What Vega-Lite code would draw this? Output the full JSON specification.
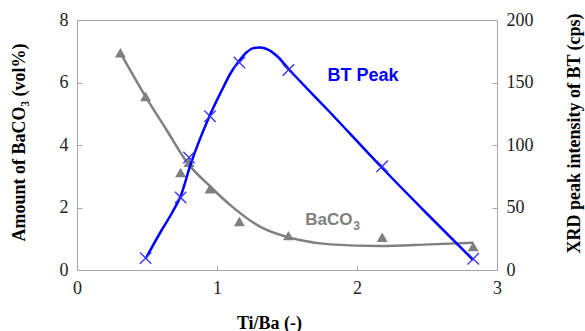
{
  "$schema": "https://vega.github.io/schema/vega-lite/v6.json",
  "width": 420,
  "height": 250,
  "autosize": {"type": "none"},
  "padding": {"left": 77, "top": 20, "right": 88, "bottom": 61},
  "background": "white",
  "config": {
    "view": {"stroke": "#a6a6a6", "strokeWidth": 1},
    "axis": {
      "grid": false,
      "domainColor": "#a6a6a6",
      "tickColor": "#a6a6a6",
      "tickSize": -5,
      "labelFont": "Liberation Serif",
      "labelFontSize": 18,
      "labelColor": "#222222",
      "labelPadding": 14,
      "titleFont": "Liberation Serif",
      "titleFontSize": 18,
      "titleFontWeight": "bold",
      "titleColor": "#000000",
      "labelFlush": false
    }
  },
  "datasets": {
    "baco3_pts": [
      {"ti_ba": 0.31, "vol": 6.95},
      {"ti_ba": 0.49, "vol": 5.55},
      {"ti_ba": 0.74, "vol": 3.12},
      {"ti_ba": 0.8, "vol": 3.45},
      {"ti_ba": 0.95, "vol": 2.6},
      {"ti_ba": 1.16, "vol": 1.55},
      {"ti_ba": 1.51, "vol": 1.1},
      {"ti_ba": 2.18, "vol": 1.05},
      {"ti_ba": 2.83, "vol": 0.75}
    ],
    "baco3_curve": [
      {"ti_ba": 0.31, "vol": 6.95},
      {"ti_ba": 0.49, "vol": 5.55},
      {"ti_ba": 0.64, "vol": 4.48},
      {"ti_ba": 0.79, "vol": 3.42},
      {"ti_ba": 0.95, "vol": 2.68},
      {"ti_ba": 1.11, "vol": 2.02},
      {"ti_ba": 1.31, "vol": 1.38},
      {"ti_ba": 1.5, "vol": 1.06},
      {"ti_ba": 1.59, "vol": 0.96},
      {"ti_ba": 1.81, "vol": 0.82},
      {"ti_ba": 2.16, "vol": 0.77},
      {"ti_ba": 2.52, "vol": 0.82},
      {"ti_ba": 2.83, "vol": 0.87}
    ],
    "bt_pts": [
      {"ti_ba": 0.49, "cps": 9.5},
      {"ti_ba": 0.74, "cps": 58},
      {"ti_ba": 0.8, "cps": 90},
      {"ti_ba": 0.95, "cps": 123},
      {"ti_ba": 1.16, "cps": 166},
      {"ti_ba": 1.51, "cps": 160},
      {"ti_ba": 2.18, "cps": 83},
      {"ti_ba": 2.83, "cps": 9}
    ],
    "bt_curve": [
      {"ti_ba": 0.49, "cps": 9},
      {"ti_ba": 0.6, "cps": 31},
      {"ti_ba": 0.68, "cps": 46},
      {"ti_ba": 0.74, "cps": 59},
      {"ti_ba": 0.81, "cps": 84},
      {"ti_ba": 0.95, "cps": 124},
      {"ti_ba": 1.04, "cps": 145},
      {"ti_ba": 1.1, "cps": 158},
      {"ti_ba": 1.15, "cps": 166},
      {"ti_ba": 1.21, "cps": 174},
      {"ti_ba": 1.26, "cps": 177.5},
      {"ti_ba": 1.3, "cps": 178},
      {"ti_ba": 1.35, "cps": 177},
      {"ti_ba": 1.43, "cps": 171},
      {"ti_ba": 1.51, "cps": 161},
      {"ti_ba": 1.8, "cps": 127},
      {"ti_ba": 2.16, "cps": 84},
      {"ti_ba": 2.5, "cps": 45},
      {"ti_ba": 2.83, "cps": 8}
    ]
  },
  "encoding": {
    "x": {
      "field": "ti_ba",
      "type": "quantitative",
      "scale": {"domain": [0, 3], "nice": false, "zero": false},
      "axis": {
        "values": [0, 1, 2, 3],
        "title": "Ti/Ba (-)",
        "titleX": 192,
        "titleY": 53,
        "titleBaseline": "middle",
        "titleAlign": "center"
      }
    }
  },
  "layer": [
    {
      "encoding": {
        "y": {
          "field": "vol",
          "type": "quantitative",
          "scale": {"domain": [0, 8], "nice": false},
          "axis": {
            "orient": "left",
            "values": [0, 2, 4, 6, 8],
            "title": "Amount of BaCO₃ (vol%)",
            "titleX": -58,
            "titleY": 122,
            "titleAngle": -90,
            "titleAlign": "center",
            "titleBaseline": "middle"
          }
        }
      },
      "layer": [
        {
          "data": {"name": "baco3_curve"},
          "mark": {"type": "line", "interpolate": "monotone", "color": "#808080", "strokeWidth": 2.5}
        },
        {
          "data": {"name": "baco3_pts"},
          "mark": {"type": "point", "shape": "triangle-up", "filled": true, "color": "#808080", "size": 120, "opacity": 1}
        },
        {
          "data": {"values": [{"ti_ba": 1.63, "vol": 1.6, "label": "BaCO", "sub": "3"}]},
          "layer": [
            {
              "mark": {"type": "text", "align": "left", "baseline": "middle", "font": "Liberation Sans", "fontSize": 17, "fontWeight": "bold", "color": "#808080"},
              "encoding": {"text": {"field": "label"}}
            },
            {
              "mark": {"type": "text", "align": "left", "baseline": "middle", "font": "Liberation Sans", "fontSize": 12, "fontWeight": "bold", "color": "#808080", "dx": 48, "dy": 6},
              "encoding": {"text": {"field": "sub"}}
            }
          ]
        }
      ]
    },
    {
      "encoding": {
        "y": {
          "field": "cps",
          "type": "quantitative",
          "scale": {"domain": [0, 200], "nice": false},
          "axis": {
            "orient": "right",
            "values": [0, 50, 100, 150, 200],
            "title": "XRD peak intensity of BT (cps)",
            "titleX": 77,
            "titleY": 113,
            "titleAngle": -90,
            "titleAlign": "center",
            "titleBaseline": "middle"
          }
        }
      },
      "layer": [
        {
          "data": {"name": "bt_curve"},
          "mark": {"type": "line", "interpolate": "monotone", "color": "#0000ff", "strokeWidth": 2.5}
        },
        {
          "data": {"name": "bt_pts"},
          "mark": {"type": "point", "shape": "M-1,-1L1,1M-1,1L1,-1", "filled": false, "color": "#3333ff", "size": 130, "strokeWidth": 1.3, "opacity": 1}
        },
        {
          "data": {"values": [{"ti_ba": 1.79, "cps": 155, "label": "BT Peak"}]},
          "mark": {"type": "text", "align": "left", "baseline": "middle", "font": "Liberation Sans", "fontSize": 18, "fontWeight": "bold", "color": "#0000ff"},
          "encoding": {"text": {"field": "label"}}
        }
      ]
    }
  ],
  "resolve": {"scale": {"y": "independent"}}
}
